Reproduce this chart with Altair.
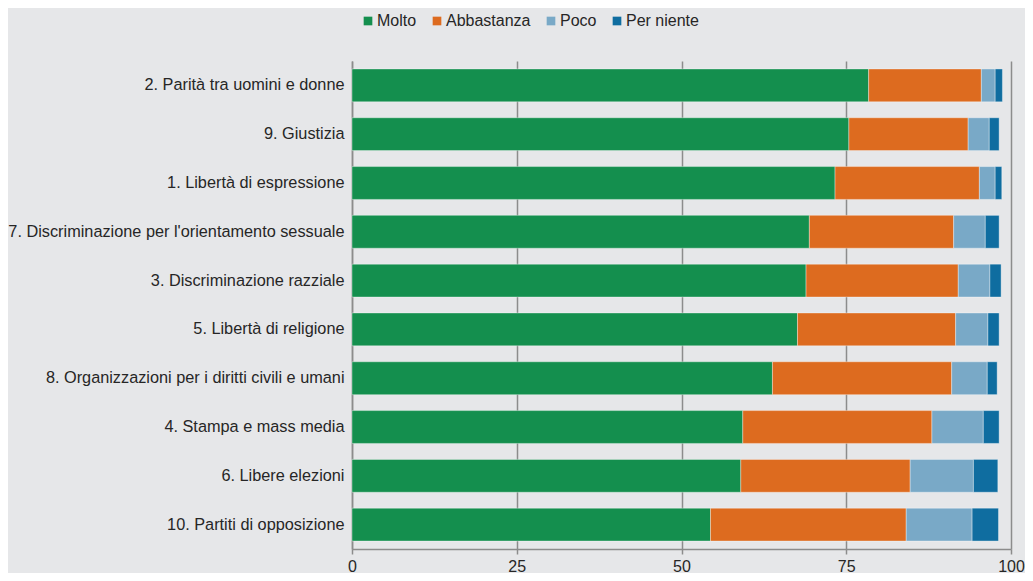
import altair as alt
import pandas as pd

categories = [
    "2. Parità tra uomini e donne",
    "9. Giustizia",
    "1. Libertà di espressione",
    "7. Discriminazione per l'orientamento sessuale",
    "3. Discriminazione razziale",
    "5. Libertà di religione",
    "8. Organizzazioni per i diritti civili e umani",
    "4. Stampa e mass media",
    "6. Libere elezioni",
    "10. Partiti di opposizione",
]
molto = [78.4, 75.4, 73.3, 69.4, 68.9, 67.6, 63.8, 59.3, 59.0, 54.4]
abbastanza = [17.1, 18.1, 21.9, 21.9, 23.1, 24.0, 27.2, 28.7, 25.7, 29.7]
poco = [2.1, 3.2, 2.4, 4.8, 4.8, 4.9, 5.4, 7.8, 9.6, 10.0]
per_niente = [1.1, 1.5, 1.0, 2.1, 1.7, 1.7, 1.5, 2.4, 3.7, 4.0]

series = ["Molto", "Abbastanza", "Poco", "Per niente"]
colors = ["#148f4e", "#dd6b1f", "#79a9c7", "#0f6da0"]
x_ticks = [0, 25, 50, 75, 100]

rows = []
for i, c in enumerate(categories):
    for j, (s, vals) in enumerate(zip(series, [molto, abbastanza, poco, per_niente])):
        rows.append({"cat": c, "serie": s, "ord": j, "val": vals[i]})
df = pd.DataFrame(rows)

FONT = "Liberation Sans"

chart = alt.Chart(df).mark_bar(
    stroke="#ffffff", strokeWidth=0.8, strokeOpacity=0.45
).encode(
    y=alt.Y(
        "cat:N",
        sort=categories,
        title=None,
        scale=alt.Scale(paddingInner=0.327, paddingOuter=0.163),
        axis=alt.Axis(
            labelFont=FONT, labelFontSize=16.3, labelColor="#262626",
            labelPadding=8, ticks=False, domainColor="#8c8c8c",
            domainWidth=1.5, grid=False, labelLimit=400,
        ),
    ),
    x=alt.X(
        "val:Q",
        stack="zero",
        title=None,
        scale=alt.Scale(domain=[0, 100], nice=False),
        axis=alt.Axis(
            values=x_ticks, labelFont=FONT, labelFontSize=16,
            labelColor="#262626", labelPadding=4, tickColor="#8c8c8c",
            tickSize=5, tickWidth=1.5, domainColor="#8c8c8c", domainWidth=1.5,
            gridColor="#8c8c8c", gridWidth=1.5, grid=True,
            labelFlush=False,
        ),
    ),
    color=alt.Color(
        "serie:N",
        sort=series,
        scale=alt.Scale(domain=series, range=colors),
        legend=alt.Legend(
            title=None, orient="none", legendX=8, legendY=-48,
            direction="horizontal", symbolType="square", symbolSize=75,
            symbolStrokeWidth=0, labelFont=FONT, labelFontSize=16,
            labelColor="#262626", labelOffset=1, columnPadding=12,
        ),
    ),
    order=alt.Order("ord:Q"),
).properties(
    width=659,
    height=488,
    background="#e6e7e9",
    padding={"left": 344, "top": 53, "right": 14, "bottom": 24},
    autosize=alt.AutoSizeParams(type="none"),
).configure_view(stroke=None)

chart.save("out.html", embed_options={"renderer": "svg", "actions": False})
